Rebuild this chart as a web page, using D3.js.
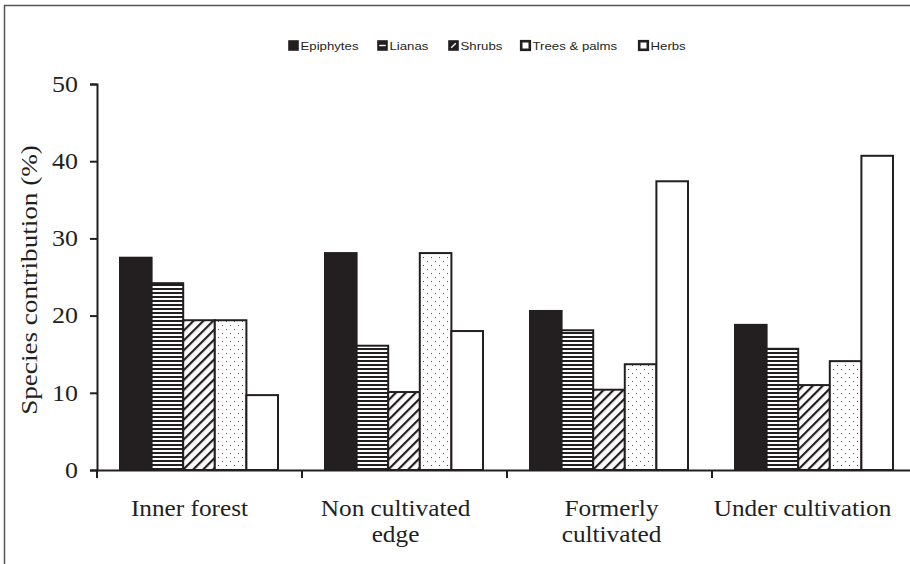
<!DOCTYPE html>
<html>
<head>
<meta charset="utf-8">
<script src="https://cdn.jsdelivr.net/npm/d3@7"></script>
<style>
  body { margin: 0; background: #fff; }
  svg { display: block; }
</style>
</head>
<body>
<div id="chart"></div>
<script>
// データ
const sites = ['Inner forest', 'Non cultivated edge', 'Formerly cultivated', 'Under cultivation'];
const siteLines = [['Inner forest'], ['Non cultivated', 'edge'], ['Formerly', 'cultivated'], ['Under cultivation']];
const groups = ['Epiphytes', 'Lianas', 'Shrubs', 'Trees & palms', 'Herbs'];
const epiphytes = [27.5, 28.1, 20.6, 18.8];
const lianas = [24.2, 16.1, 18.1, 15.7];
const shrubs = [19.4, 10.1, 10.4, 11.0];
const trees = [19.4, 28.1, 13.7, 14.1];
const herbs = [9.7, 18.0, 37.4, 40.7];
const yTicks = [0, 10, 20, 30, 40, 50];

const series = [epiphytes, lianas, shrubs, trees, herbs];
const ink = '#231f20';
const serif = '"Liberation Serif", "Times New Roman", serif';
const sans = '"Liberation Sans", Arial, sans-serif';

const W = 910, H = 564;
const svg = d3.select('#chart').append('svg').attr('width', W).attr('height', H);

// パターン
const defs = svg.append('defs');
const pL = defs.append('pattern').attr('id', 'p-lianas').attr('patternUnits', 'userSpaceOnUse')
  .attr('width', 8).attr('height', 4);
pL.append('rect').attr('width', 8).attr('height', 4).attr('fill', '#fff');
pL.append('rect').attr('y', 0).attr('width', 8).attr('height', 2).attr('fill', ink);

const pS = defs.append('pattern').attr('id', 'p-shrubs').attr('patternUnits', 'userSpaceOnUse')
  .attr('width', 7).attr('height', 7).attr('patternTransform', 'rotate(45)');
pS.append('rect').attr('width', 7).attr('height', 7).attr('fill', '#fff');
pS.append('rect').attr('width', 2.2).attr('height', 7).attr('fill', ink);

const pT = defs.append('pattern').attr('id', 'p-trees').attr('patternUnits', 'userSpaceOnUse')
  .attr('width', 8).attr('height', 8);
pT.append('rect').attr('width', 8).attr('height', 8).attr('fill', '#fff');
pT.append('rect').attr('x', 1).attr('y', 1).attr('width', 1).attr('height', 1).attr('fill', '#555');
pT.append('rect').attr('x', 5).attr('y', 5).attr('width', 1).attr('height', 1).attr('fill', '#555');

const fills = [ink, 'url(#p-lianas)', 'url(#p-shrubs)', 'url(#p-trees)', '#fff'];

// 外枠
svg.append('rect').attr('x', 4.5).attr('y', 5.5).attr('width', 920).attr('height', 570)
  .attr('fill', 'none').attr('stroke', '#555').attr('stroke-width', 1.5);

const x = d3.scaleBand().domain(sites).range([97, 917]).paddingInner(0).paddingOuter(0);
const y = d3.scaleLinear().domain([0, 50]).range([470, 84]);
const xInner = d3.scaleBand().domain(groups).range([23, 181]).padding(0);

// 棒
sites.forEach((s, i) => {
  const g = svg.append('g').attr('transform', `translate(${x(s)},0)`);
  g.selectAll('rect').data(groups).enter().append('rect')
    .attr('x', d => xInner(d))
    .attr('y', (d, k) => y(series[k][i]))
    .attr('width', xInner.bandwidth())
    .attr('height', (d, k) => y(0) - y(series[k][i]))
    .attr('fill', (d, k) => fills[k])
    .attr('stroke', ink)
    .attr('stroke-width', 2);
});

// Y軸
const yAxis = svg.append('g').attr('transform', 'translate(97,0)')
  .call(d3.axisLeft(y).tickValues(yTicks).tickSize(7).tickFormat(d3.format('d')));
yAxis.select('.domain').attr('stroke', ink).attr('stroke-width', 2);
yAxis.selectAll('.tick line').attr('stroke', ink).attr('stroke-width', 2);
yAxis.selectAll('.tick text')
  .attr('x', 0)
  .attr('transform', 'translate(-19,0) scale(1.13,1)')
  .attr('fill', ink)
  .style('font-family', serif)
  .style('font-size', '23px');

// X軸
const xAxis = svg.append('g').attr('transform', `translate(0,${y(0)})`)
  .call(d3.axisBottom(x).tickSize(0).tickFormat(''));
xAxis.select('.domain').attr('stroke', ink).attr('stroke-width', 2);
xAxis.selectAll('.tick').remove();
svg.selectAll('.xtick').data(sites).enter().append('line')
  .attr('x1', d => x(d)).attr('x2', d => x(d))
  .attr('y1', y(0)).attr('y2', y(0) + 8)
  .attr('stroke', ink).attr('stroke-width', 2);

// カテゴリーラベル
const labelShift = [-10, -9, 2, -12];
sites.forEach((s, i) => {
  const cx = x(s) + x.bandwidth() / 2 + labelShift[i];
  siteLines[i].forEach((line, j) => {
    svg.append('text')
      .attr('transform', `translate(${cx},${516 + j * 26}) scale(1.1,1)`)
      .attr('text-anchor', 'middle')
      .attr('fill', ink)
      .style('font-family', serif)
      .style('font-size', '23px')
      .text(line);
  });
});

// Y軸タイトル
svg.append('text')
  .attr('transform', `translate(37,${280}) rotate(-90) scale(1.18,1)`)
  .attr('text-anchor', 'middle')
  .attr('fill', ink)
  .style('font-family', serif)
  .style('font-size', '23px')
  .text('Species contribution (%)');

// 凡例
const legendX = [288, 377, 448, 520, 638];
const legend = svg.append('g');
groups.forEach((name, k) => {
  const lx = legendX[k] + 1.2, ly = 41.2, s = 8.6;
  legend.append('rect')
    .attr('x', lx).attr('y', ly)
    .attr('width', s).attr('height', s)
    .attr('fill', k < 3 ? ink : '#fff')
    .attr('stroke', ink).attr('stroke-width', k >= 3 ? 2.6 : 2);
  if (k === 1) {
    legend.append('line').attr('x1', lx + 1).attr('x2', lx + s - 1)
      .attr('y1', ly + s / 2).attr('y2', ly + s / 2)
      .attr('stroke', '#fff').attr('stroke-width', 1.4);
  }
  if (k === 2) {
    legend.append('line').attr('x1', lx + 2).attr('x2', lx + s - 2)
      .attr('y1', ly + s - 2).attr('y2', ly + 2)
      .attr('stroke', '#fff').attr('stroke-width', 1.4);
  }
  legend.append('text')
    .attr('transform', `translate(${legendX[k] + 12.5},50) scale(1.12,1)`)
    .attr('fill', ink)
    .style('font-family', sans)
    .style('font-size', '11.8px')
    .text(name);
});
</script>
</body>
</html>
